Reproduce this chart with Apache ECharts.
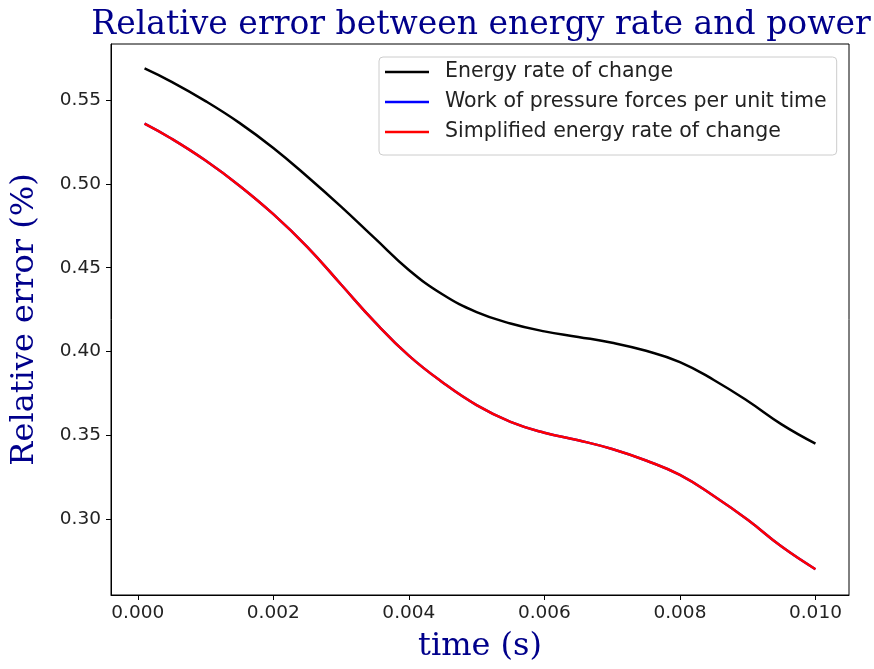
<!DOCTYPE html>
<html>
<head>
<meta charset="utf-8">
<script src="https://cdn.jsdelivr.net/npm/echarts@6/dist/echarts.min.js"></script>
<style>html,body{margin:0;padding:0;background:#fff}#c{width:874px;height:669px}</style>
</head>
<body>
<div id="c"></div>
<script>
const timeValues = [0.0001,0.0005,0.0010,0.0015,0.0020,0.0025,0.0030,0.0035,0.0040,0.0045,0.0050,0.0055,0.0060,0.0065,0.0070,0.0075,0.0080,0.0085,0.0090,0.0095,0.0100];
const energyRate = [0.569,0.561,0.5495,0.5365,0.5215,0.5045,0.4865,0.4675,0.4487,0.4340,0.4235,0.4167,0.4120,0.4087,0.4052,0.4004,0.3937,0.3830,0.3704,0.3565,0.345];
const pressureWork = [0.536,0.527,0.514,0.499,0.482,0.4625,0.440,0.4175,0.3975,0.3815,0.368,0.358,0.3515,0.347,0.3418,0.3349,0.3263,0.3137,0.2995,0.2835,0.270];
const simplifiedRate = [0.536,0.527,0.514,0.499,0.482,0.4625,0.440,0.4175,0.3975,0.3815,0.368,0.358,0.3515,0.347,0.3418,0.3349,0.3263,0.3137,0.2995,0.2835,0.270];
const xTicks = [0,0.002,0.004,0.006,0.008,0.010];
const yTicks = [0.30,0.35,0.40,0.45,0.50,0.55];
const seriesNames = ['Energy rate of change','Work of pressure forces per unit time','Simplified energy rate of change'];

const pairs = (xs, ys) => xs.map((x, i) => [x, ys[i]]);
const chart = echarts.init(document.getElementById('c'), null, {renderer: 'canvas'});
const tickFont = {fontFamily: 'DejaVu Sans', fontSize: 18.5, color: '#222'};
const mkLine = (name, data, color, z) => ({
  name, type: 'line', data: pairs(timeValues, data), smooth: 0.45, showSymbol: false, symbol: 'none',
  lineStyle: {color, width: 2.5}, itemStyle: {color}, z, animation: false
});
chart.setOption({
  animation: false,
  title: {
    text: 'Relative error between energy rate and power',
    left: 476, textAlign: 'center', top: 4,
    textStyle: {fontFamily: 'DejaVu Serif', fontSize: 33, fontWeight: 'normal', color: '#00008b'}
  },
  grid: {left: 111, right: 25, top: 44, bottom: 74, show: true, borderColor: '#000', borderWidth: 1, backgroundColor: 'transparent'},
  xAxis: {
    type: 'value', min: -0.000395, max: 0.010495,
    name: 'time (s)', nameLocation: 'middle', nameGap: 36,
    nameTextStyle: {fontFamily: 'DejaVu Serif', fontSize: 32, color: '#00008b'},
    axisLine: {show: true, onZero: false, lineStyle: {color: '#000', width: 1}},
    axisTick: {show: true, customValues: xTicks, length: 5, lineStyle: {color: '#000'}},
    axisLabel: Object.assign({customValues: xTicks, margin: 9, formatter: v => v.toFixed(3)}, tickFont),
    splitLine: {show: false}
  },
  yAxis: {
    type: 'value', min: 0.2546, max: 0.5836,
    name: 'Relative error (%)', nameLocation: 'middle', nameGap: 70,
    nameTextStyle: {fontFamily: 'DejaVu Serif', fontSize: 32, color: '#00008b'},
    axisLine: {show: true, onZero: false, lineStyle: {color: '#000', width: 1}},
    axisTick: {show: true, customValues: yTicks, length: 5, lineStyle: {color: '#000'}},
    axisLabel: Object.assign({customValues: yTicks, margin: 10, formatter: v => v.toFixed(2)}, tickFont),
    splitLine: {show: false}
  },
  legend: {
    orient: 'vertical', left: 379, top: 57,
    data: seriesNames,
    icon: 'rect', itemWidth: 44, itemHeight: 2.5, itemGap: 6,
    padding: [3, 10, 11, 6],
    borderColor: '#ccc', borderWidth: 1, borderRadius: 4, backgroundColor: 'rgba(255,255,255,0.8)',
    textStyle: {fontFamily: 'DejaVu Sans', fontSize: 20.5, color: '#222', lineHeight: 24, padding: [0, 0, 0, 11]}
  },
  series: [
    mkLine(seriesNames[0], energyRate, '#000000', 3),
    mkLine(seriesNames[1], pressureWork, '#0000ff', 2),
    mkLine(seriesNames[2], simplifiedRate, '#ff0000', 4)
  ]
});
</script>
</body>
</html>
